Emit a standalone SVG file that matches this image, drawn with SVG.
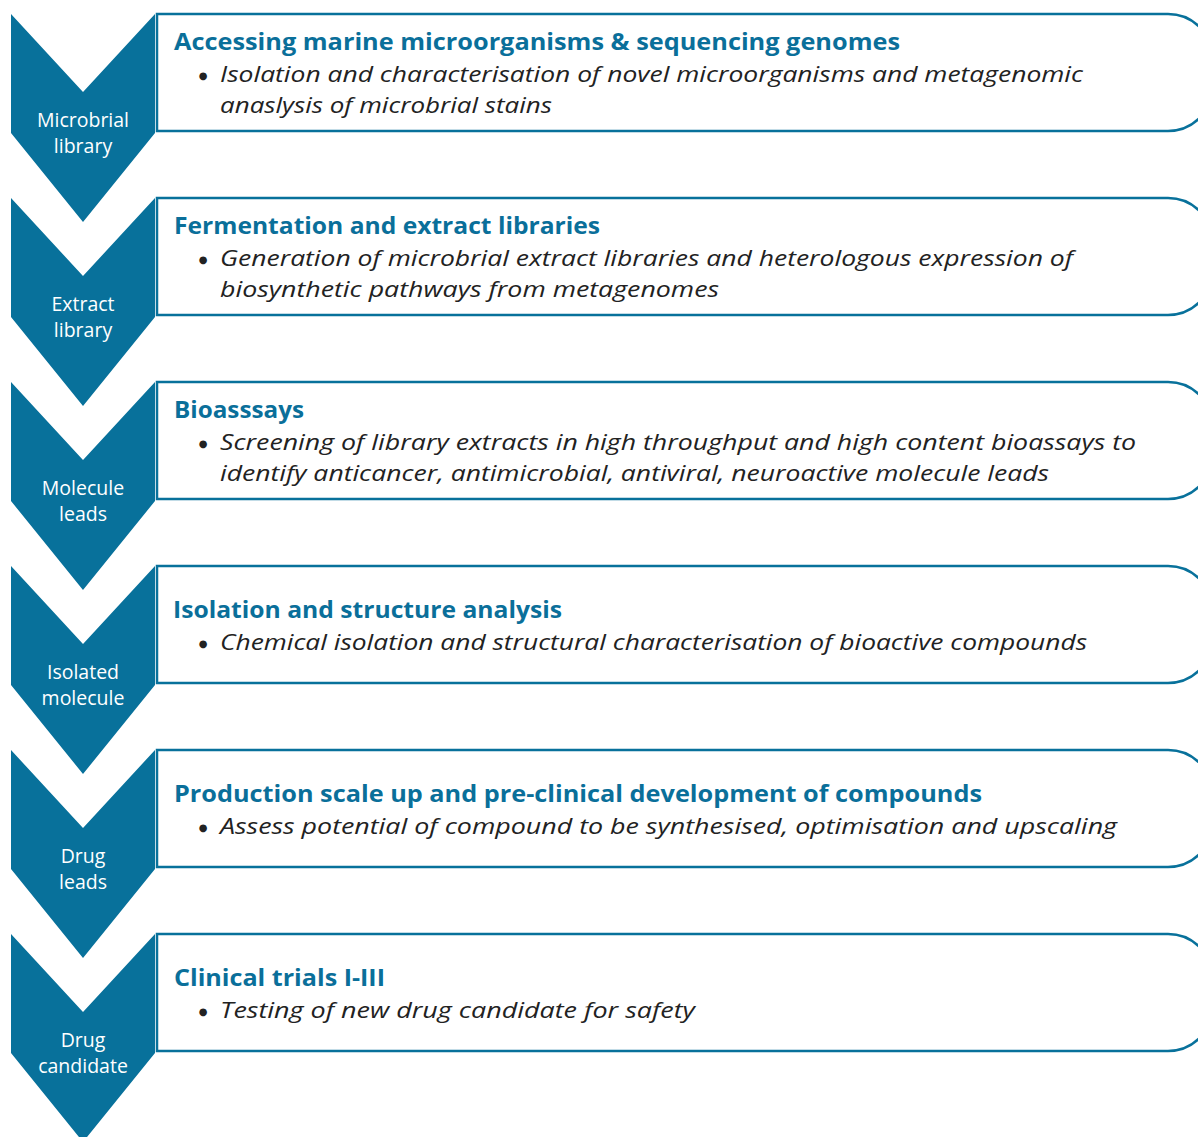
<svg xmlns="http://www.w3.org/2000/svg" width="1198" height="1137" viewBox="0 0 1198 1137">
<defs>
<style>
.chev{fill:#08719b;}
.box{fill:#fff;stroke:#08719b;stroke-width:2.5;}
.lbl{font-family:"Open Sans","Noto Sans",sans-serif;font-size:19.5px;fill:#fff;text-anchor:middle;}
.ttl{font-family:"Open Sans","Noto Sans",sans-serif;font-size:23px;font-weight:bold;fill:#0a6f9a;}
.body{font-family:"Open Sans","Noto Sans",sans-serif;font-size:22px;font-style:italic;fill:#222;}
.bul{font-family:"DejaVu Sans",sans-serif;font-size:10px;fill:#222;text-anchor:middle;}
</style>
<path id="chevShape" d="M11,0 L83,78 L155,0 L155,119 L83,208 L11,119 Z"/>
<path id="boxShape" d="M157,0 H1168 A45,45 0 0 1 1213,45 V72 A45,45 0 0 1 1168,117 H157 Z"/>
</defs>
<g id="connectors"></g>

<g id="step1">
<use href="#chevShape" class="chev" transform="translate(0,14)"/>
<text class="lbl" x="83" y="127">Microbrial</text>
<text class="lbl" x="83" y="153">library</text>
<use href="#boxShape" class="box" transform="translate(0,14)"/>
<text class="ttl" x="174" y="50" textLength="726" lengthAdjust="spacingAndGlyphs">Accessing marine microorganisms &amp; sequencing genomes</text>
<text class="bul" x="203" y="79">●</text>
<text class="body" x="220" y="82" textLength="863" lengthAdjust="spacingAndGlyphs">Isolation and characterisation of novel microorganisms and metagenomic</text>
<text class="body" x="220" y="113" textLength="332" lengthAdjust="spacingAndGlyphs">anaslysis of microbrial stains</text>
</g>

<g id="step2">
<use href="#chevShape" class="chev" transform="translate(0,198)"/>
<text class="lbl" x="83" y="311">Extract</text>
<text class="lbl" x="83" y="337">library</text>
<use href="#boxShape" class="box" transform="translate(0,198)"/>
<text class="ttl" x="174" y="234" textLength="426" lengthAdjust="spacingAndGlyphs">Fermentation and extract libraries</text>
<text class="bul" x="203" y="263">●</text>
<text class="body" x="220" y="266" textLength="853" lengthAdjust="spacingAndGlyphs">Generation of microbrial extract libraries and heterologous expression of</text>
<text class="body" x="220" y="297" textLength="499" lengthAdjust="spacingAndGlyphs">biosynthetic pathways from metagenomes</text>
</g>

<g id="step3">
<use href="#chevShape" class="chev" transform="translate(0,382)"/>
<text class="lbl" x="83" y="495">Molecule</text>
<text class="lbl" x="83" y="521">leads</text>
<use href="#boxShape" class="box" transform="translate(0,382)"/>
<text class="ttl" x="174" y="418" textLength="130" lengthAdjust="spacingAndGlyphs">Bioasssays</text>
<text class="bul" x="203" y="447">●</text>
<text class="body" x="220" y="450" textLength="916" lengthAdjust="spacingAndGlyphs">Screening of library extracts in high throughput and high content bioassays to</text>
<text class="body" x="220" y="481" textLength="829" lengthAdjust="spacingAndGlyphs">identify anticancer, antimicrobial, antiviral, neuroactive molecule leads</text>
</g>

<g id="step4">
<use href="#chevShape" class="chev" transform="translate(0,566)"/>
<text class="lbl" x="83" y="679">Isolated</text>
<text class="lbl" x="83" y="705">molecule</text>
<use href="#boxShape" class="box" transform="translate(0,566)"/>
<text class="ttl" x="173" y="618" textLength="389" lengthAdjust="spacingAndGlyphs">Isolation and structure analysis</text>
<text class="bul" x="203" y="647">●</text>
<text class="body" x="220" y="650" textLength="867" lengthAdjust="spacingAndGlyphs">Chemical isolation and structural characterisation of bioactive compounds</text>
</g>

<g id="step5">
<use href="#chevShape" class="chev" transform="translate(0,750)"/>
<text class="lbl" x="83" y="863">Drug</text>
<text class="lbl" x="83" y="889">leads</text>
<use href="#boxShape" class="box" transform="translate(0,750)"/>
<text class="ttl" x="174" y="802" textLength="808" lengthAdjust="spacingAndGlyphs">Production scale up and pre-clinical development of compounds</text>
<text class="bul" x="203" y="831">●</text>
<text class="body" x="220" y="834" textLength="897" lengthAdjust="spacingAndGlyphs">Assess potential of compound to be synthesised, optimisation and upscaling</text>
</g>

<g id="step6">
<use href="#chevShape" class="chev" transform="translate(0,934)"/>
<text class="lbl" x="83" y="1047">Drug</text>
<text class="lbl" x="83" y="1073">candidate</text>
<use href="#boxShape" class="box" transform="translate(0,934)"/>
<text class="ttl" x="174" y="986" textLength="211" lengthAdjust="spacingAndGlyphs">Clinical trials I-III</text>
<text class="bul" x="203" y="1015">●</text>
<text class="body" x="220" y="1018" textLength="475" lengthAdjust="spacingAndGlyphs">Testing of new drug candidate for safety</text>
</g>
</svg>
